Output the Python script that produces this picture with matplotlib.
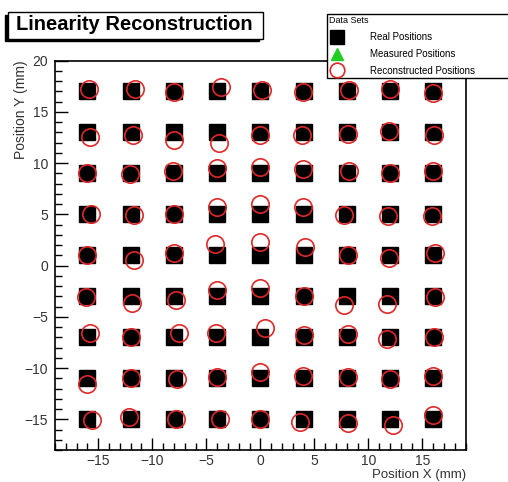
# Linearity reconstruction: real vs reconstructed grid positions
import matplotlib.pyplot as plt
from matplotlib.lines import Line2D
from matplotlib.patches import Rectangle
from matplotlib.ticker import MultipleLocator

plt.rcParams['font.family'] = ['Liberation Sans', 'DejaVu Sans']

# real grid (mm)
grid_x = [-16, -12, -8, -4, 0, 4, 8, 12, 16]
grid_y = [17, 13, 9, 5, 1, -3, -7, -11, -15]

# reconstructed positions, one row per grid_y value, columns follow grid_x
reco_x = [
    [-15.9, -11.6, -8.0, -3.6, 0.15, 3.9, 8.2, 12.0, 16.0],
    [-15.8, -11.8, -8.0, -3.8, 0.0, 3.85, 8.1, 11.9, 16.1],
    [-16.0, -12.1, -8.05, -4.0, 0.0, 3.95, 8.2, 12.0, 16.0],
    [-15.7, -11.7, -8.0, -4.0, 0.0, 3.9, 7.7, 11.85, 15.85],
    [-16.05, -11.7, -8.0, -4.15, 0.0, 4.1, 8.15, 11.9, 16.2],
    [-16.15, -11.9, -7.85, -4.0, 0.0, 4.0, 7.75, 11.7, 16.2],
    [-15.8, -12.0, -7.55, -4.1, 0.45, 4.0, 8.1, 11.7, 16.1],
    [-16.0, -12.0, -7.7, -4.0, 0.0, 3.9, 8.1, 12.0, 16.0],
    [-15.55, -12.15, -7.85, -3.75, 0.0, 3.7, 8.15, 12.3, 16.0],
]
reco_y = [
    [17.2, 17.2, 16.9, 17.4, 17.1, 16.9, 17.1, 17.2, 16.8],
    [12.6, 12.7, 12.3, 12.0, 12.7, 12.7, 12.8, 13.1, 12.7],
    [9.0, 8.9, 9.2, 9.5, 9.6, 9.4, 9.25, 9.0, 9.2],
    [5.0, 4.9, 5.0, 5.7, 6.0, 5.7, 4.9, 4.85, 4.85],
    [1.0, 0.55, 1.2, 2.1, 2.3, 1.85, 1.0, 0.7, 1.25],
    [-3.05, -3.65, -3.4, -2.35, -2.2, -3.0, -3.8, -3.7, -3.1],
    [-6.6, -7.0, -6.55, -6.6, -6.1, -6.8, -6.7, -7.2, -7.0],
    [-11.6, -11.0, -11.1, -10.9, -10.4, -10.8, -10.9, -11.1, -10.8],
    [-15.1, -14.8, -15.0, -15.0, -15.0, -15.3, -15.4, -15.55, -14.6],
]

W, H = 508, 482
fig = plt.figure(figsize=(W / 100, H / 100), dpi=100)
ax = fig.add_axes([55 / W, 1 - 450 / H, 410.7 / W, 389.3 / H])

real_x = [x for y in grid_y for x in grid_x]
real_y = [y for y in grid_y for x in grid_x]
ax.plot(real_x, real_y, ls='none', marker='s', ms=11.5, color='black', zorder=2)

rx = [v for row in reco_x for v in row]
ry = [v for row in reco_y for v in row]
ax.plot(rx, ry, ls='none', marker='o', ms=12.5, mfc='none', mec='#e02828', mew=1.2, zorder=3)

ax.set_xlim(-19, 19)
ax.set_ylim(-18, 20)
ax.xaxis.set_major_locator(MultipleLocator(5))
ax.xaxis.set_minor_locator(MultipleLocator(1))
ax.yaxis.set_major_locator(MultipleLocator(5))
ax.yaxis.set_minor_locator(MultipleLocator(1))
ax.tick_params(which='both', direction='in', top=False, right=False, labelsize=10, labelcolor='#333333')
ax.tick_params(which='major', length=9, width=1)
ax.tick_params(which='minor', length=5, width=1)
ax.tick_params(axis='x', pad=3)
ax.tick_params(axis='y', pad=5)
for s in ax.spines.values():
    s.set_linewidth(1.2)

ax.set_xlabel('Position X (mm)', fontsize=9.5, color='#333333', loc='right')
ax.xaxis.set_label_coords(1.0, -0.049)
ax.set_ylabel('Position Y (mm)', fontsize=10, color='#333333', loc='top')
ax.yaxis.set_label_coords(-0.066, 1.0)

# title box with a ROOT-like shadow
fig.add_artist(Rectangle((5 / W, 1 - 41 / H), 254 / W, 26 / H, transform=fig.transFigure,
                         facecolor='black', edgecolor='black', zorder=5))
fig.add_artist(Rectangle((8 / W, 1 - 39 / H), 255 / W, 27 / H, transform=fig.transFigure,
                         facecolor='white', edgecolor='black', lw=1, zorder=6))
fig.text(134 / W, 1 - 25 / H, 'Linearity Reconstruction', ha='center', va='center',
         fontsize=14.5, fontweight='bold', zorder=7)

# legend
handles = [
    Line2D([], [], ls='none', marker='s', ms=10, color='black'),
    Line2D([], [], ls='none', marker='^', ms=9, color='#22cc22'),
    Line2D([], [], ls='none', marker='o', ms=10.5, mfc='white', mec='#e02828', mew=1.2),
]
labels = ['Real Positions', 'Measured Positions', 'Reconstructed Positions']
leg = fig.legend(handles, labels, title='Data Sets', loc='upper left',
                 bbox_to_anchor=(327 / W, 1 - 14 / H, 0.4, 0), mode='expand',
                 fontsize=7, title_fontsize=6.5, alignment='left', frameon=True,
                 fancybox=False, edgecolor='black', framealpha=1, borderaxespad=0,
                 borderpad=0.25, labelspacing=0.7, handletextpad=2.6, handlelength=1.6)
leg.get_frame().set_linewidth(1)
leg.set_zorder(10)

fig.savefig('out.png', dpi=100)
